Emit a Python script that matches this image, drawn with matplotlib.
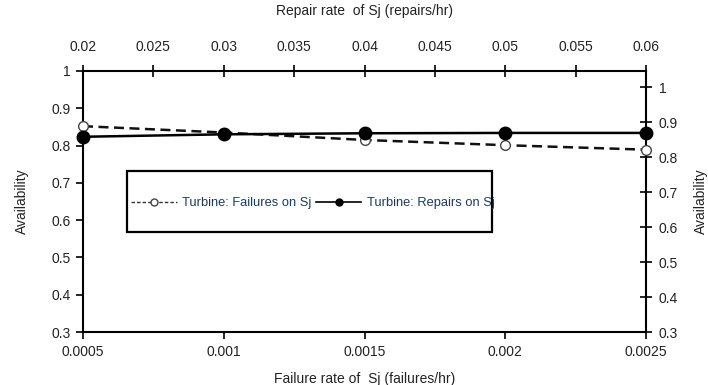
import matplotlib
matplotlib.use("Agg")
import matplotlib.pyplot as plt
from matplotlib.lines import Line2D
from matplotlib.patches import Rectangle

# -------- data --------
failure_rate = [0.0005, 0.001, 0.0015, 0.002, 0.0025]
avail_failures = [0.852, 0.835, 0.815, 0.801, 0.789]

repair_rate = [0.02, 0.03, 0.04, 0.05, 0.06]
avail_repairs = [0.858, 0.865, 0.868, 0.869, 0.869]

bottom_ticks = [0.0005, 0.001, 0.0015, 0.002, 0.0025]
bottom_labels = ["0.0005", "0.001", "0.0015", "0.002", "0.0025"]
top_ticks = [0.02, 0.025, 0.03, 0.035, 0.04, 0.045, 0.05, 0.055, 0.06]
top_labels = ["0.02", "0.025", "0.03", "0.035", "0.04", "0.045", "0.05", "0.055", "0.06"]
left_ticks = [0.3, 0.4, 0.5, 0.6, 0.7, 0.8, 0.9, 1.0]
left_labels = ["0.3", "0.4", "0.5", "0.6", "0.7", "0.8", "0.9", "1"]
right_ticks = left_ticks
right_labels = left_labels
# ----------------------

plt.rcParams['font.family'] = ['Liberation Sans', 'DejaVu Sans']
plt.rcParams['font.size'] = 10
TXT = '#222222'

fig = plt.figure(figsize=(7.08, 3.85), dpi=100)
pos = [83 / 708, 53 / 385, 563 / 708, 261 / 385]

# primary axes: failure rate (bottom) vs availability (left)
ax = fig.add_axes(pos)
ax.plot(failure_rate, avail_failures, linestyle=(0, (4, 2.2)), color='#111111',
        linewidth=1.8, marker='o', markersize=7, markerfacecolor='white',
        markeredgecolor='#444444', markeredgewidth=1.0, zorder=3, clip_on=False)
ax.set_xlim(0.0005, 0.0025)
ax.set_ylim(0.3, 1.0)
ax.set_xticks(bottom_ticks)
ax.set_xticklabels(bottom_labels)
ax.set_yticks(left_ticks)
ax.set_yticklabels(left_labels)
ax.tick_params(axis='both', direction='out', length=5, width=1.2, colors='black',
               labelcolor=TXT, pad=4, labelsize=10)
ax.set_xlabel("Failure rate of  Sj (failures/hr)", color=TXT, labelpad=10)
ax.set_ylabel("Availability", color=TXT, labelpad=16)
for s in ax.spines.values():
    s.set_linewidth(1.5)

# secondary axes: repair rate (top) vs availability (right)
ax2 = fig.add_axes(pos, frameon=False)
ax2.plot(repair_rate, avail_repairs, linestyle='-', color='black', linewidth=1.8,
         marker='o', markersize=9, markerfacecolor='black', markeredgecolor='black',
         zorder=4, clip_on=False)
ax2.set_xlim(0.02, 0.06)
ax2.set_ylim(0.3, 1.046)
ax2.xaxis.tick_top()
ax2.xaxis.set_label_position('top')
ax2.yaxis.tick_right()
ax2.yaxis.set_label_position('right')
ax2.set_xticks(top_ticks)
ax2.set_xticklabels(top_labels)
ax2.set_yticks(right_ticks)
ax2.set_yticklabels(right_labels)
ax2.tick_params(axis='both', direction='inout', length=8, width=1.2, colors='black',
                labelcolor=TXT, pad=5, labelsize=10)
ax2.tick_params(axis='x', pad=8)
ax2.set_xlabel("Repair rate  of Sj (repairs/hr)", color=TXT, labelpad=18)
ax2.set_ylabel("Availability", color=TXT, labelpad=12, rotation=90)

# legend box
ax2.add_patch(Rectangle((0.078, 0.383), 0.649, 0.234, transform=ax2.transAxes,
                        fill=False, edgecolor='black', linewidth=1.6, zorder=5))
handles = [
    Line2D([], [], linestyle=(0, (2.5, 1.5)), color='#333333', linewidth=1.0,
           marker='o', markersize=5, markerfacecolor='white', markeredgecolor='#444444'),
    Line2D([], [], linestyle='-', color='black', linewidth=1.2,
           marker='o', markersize=5, markerfacecolor='black'),
]
ax2.legend(handles, ["Turbine: Failures on Sj", "Turbine: Repairs on Sj"],
           loc='center left', bbox_to_anchor=(0.086, 0.493), ncol=2, frameon=False,
           handlelength=3.5, handletextpad=0.4, columnspacing=0.4, borderpad=0,
           borderaxespad=0, labelcolor='#1f3b5a', fontsize=9.3)

fig.savefig("out.png", dpi=100)
